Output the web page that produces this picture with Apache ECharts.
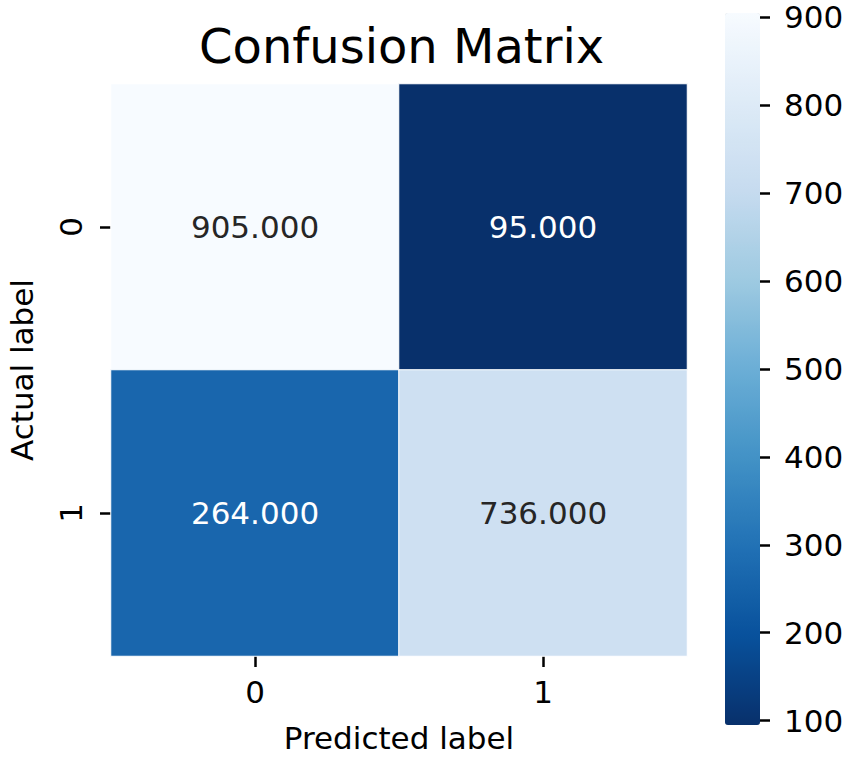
<!DOCTYPE html>
<html><head><meta charset="utf-8">
<script src="https://cdn.jsdelivr.net/npm/echarts@6/dist/echarts.min.js"></script>
<style>html,body{margin:0;padding:0;background:#fff}#c{width:851px;height:759px}</style>
</head><body><div id="c"></div>
<script>
const predictedLabels = ['0', '1'];
const actualLabels = ['0', '1'];
// rows = actual, cols = predicted
const row0Values = [905, 95];
const row1Values = [264, 736];
const colorbarTicks = [100, 200, 300, 400, 500, 600, 700, 800, 900];
const colorMin = 95, colorMax = 905;
const blues = ['#08306b','#08519c','#2171b5','#4292c6','#6baed6','#9ecae1','#c6dbef','#deebf7','#f7fbff'];

const F = 'DejaVu Sans';
const rows = [row0Values, row1Values];
const data = [];
rows.forEach((r, yi) => r.forEach((v, xi) => {
  const t = (v - colorMin) / (colorMax - colorMin);
  data.push({ value: [xi, yi, v], label: { color: t < 0.5 ? '#ffffff' : '#262626' } });
}));

// colorbar axis: drawn on a taller grid so that ticks fall on multiples of 100
const cbTop = 13, cbHeight = 712;
const pxPerUnit = cbHeight / (colorMax - colorMin);
const axMin = 0, axMax = 1000;
const axTop = cbTop - (axMax - colorMax) * pxPerUnit;
const axHeight = (axMax - axMin) * pxPerUnit;

const chart = echarts.init(document.getElementById('c'), null, { renderer: 'svg' });
chart.setOption({
  animation: false,
  backgroundColor: '#fff',
  title: {
    text: 'Confusion Matrix', left: 194, top: 17,
    textStyle: { fontFamily: F, fontSize: 48, fontWeight: 'normal', color: '#000' }
  },
  grid: [
    { left: 111, top: 84, width: 576, height: 572, outerBoundsMode: 'none', containLabel: false },
    { left: 725, top: axTop, width: 35, height: axHeight, outerBoundsMode: 'none', containLabel: false }
  ],
  xAxis: [
    { type: 'category', gridIndex: 0, data: predictedLabels, position: 'bottom',
      name: 'Predicted label', nameLocation: 'middle', nameGap: 66,
      nameTextStyle: { fontFamily: F, fontSize: 31, color: '#000' },
      axisLine: { show: false }, splitLine: { show: false },
      axisTick: { show: true, alignWithLabel: true, length: 11, lineStyle: { color: '#000', width: 2.5 } },
      axisLabel: { fontFamily: F, fontSize: 31, color: '#000', margin: 20 } },
    { type: 'value', gridIndex: 1, min: 0, max: 1, show: false }
  ],
  yAxis: [
    { type: 'category', gridIndex: 0, data: actualLabels, inverse: true,
      name: 'Actual label', nameLocation: 'middle', nameGap: 74, nameRotate: 90,
      nameTextStyle: { fontFamily: F, fontSize: 31, color: '#000' },
      axisLine: { show: false }, splitLine: { show: false },
      axisTick: { show: true, alignWithLabel: true, length: 11, lineStyle: { color: '#000', width: 2.5 } },
      axisLabel: { fontFamily: F, fontSize: 31, color: '#000', margin: 25, rotate: 90 } },
    { type: 'value', gridIndex: 1, min: axMin, max: axMax, interval: 100, position: 'right', z: 10,
      axisLine: { show: false, onZero: false }, splitLine: { show: false },
      axisTick: { show: true, inside: false, length: 10, lineStyle: { color: '#000', width: 2.5, opacity: 1 } },
      axisLabel: { fontFamily: F, fontSize: 31, color: '#000', margin: 24,
        formatter: v => colorbarTicks.indexOf(v) >= 0 ? String(v) : '' } }
  ],
  visualMap: {
    type: 'continuous', min: colorMin, max: colorMax, seriesIndex: 0,
    orient: 'vertical', left: 725, top: cbTop, itemWidth: 35, itemHeight: cbHeight,
    padding: 0, calculable: false, hoverLink: false, text: null,
    inRange: { color: blues }
  },
  series: [{
    type: 'heatmap', xAxisIndex: 0, yAxisIndex: 0, data: data,
    itemStyle: { borderColor: '#fff', borderWidth: 1 },
    label: { show: true, fontFamily: F, fontSize: 31,
      formatter: p => p.value[2].toFixed(3) },
    emphasis: { disabled: true }
  }]
});
</script></body></html>
